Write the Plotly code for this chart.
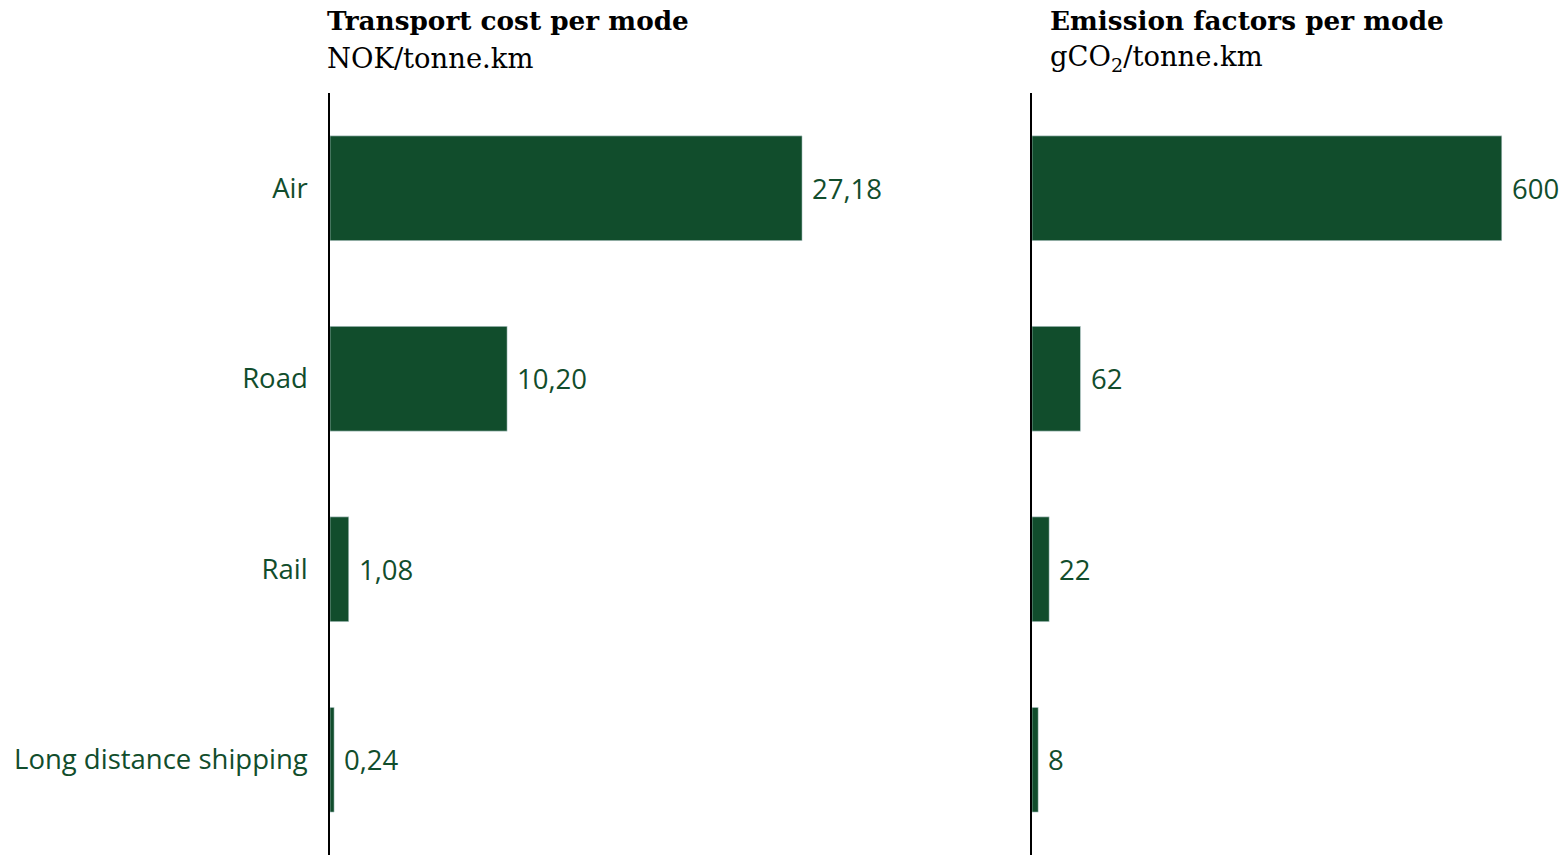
import plotly.graph_objects as go
from plotly.subplots import make_subplots

modes = ["Air", "Road", "Rail", "Long distance shipping"]
cost_nok = [27.18, 10.20, 1.08, 0.24]
emission_g = [600, 62, 22, 8]

title_left = "Transport cost per mode"
unit_left = "NOK/tonne.km"
title_right = "Emission factors per mode"
unit_right = "gCO<sub>2</sub>/tonne.km"

GREEN = "#114D2C"
W, H = 1566, 855
TOP = 93
PH = H - TOP
LABEL_FONT = dict(family="Open Sans, Lato, sans-serif", size=27.5, color=GREEN)

fig = make_subplots(rows=1, cols=2)

fig.add_trace(go.Bar(y=modes, x=cost_nok, orientation="h", marker_color=GREEN, width=0.55,
                     showlegend=False, hoverinfo="skip"), row=1, col=1)
fig.add_trace(go.Bar(y=modes, x=emission_g, orientation="h", marker_color=GREEN, width=0.55,
                     showlegend=False, hoverinfo="skip"), row=1, col=2)

for m, v in zip(modes, cost_nok):
    fig.add_annotation(xref="x", yref="y", x=v, y=m, text=f"{v:.2f}".replace(".", ","),
                       xanchor="left", xshift=8, showarrow=False, font=LABEL_FONT)
for m, v in zip(modes, emission_g):
    fig.add_annotation(xref="x2", yref="y2", x=v, y=m, text=f"{v}",
                       xanchor="left", xshift=8, showarrow=False, font=LABEL_FONT)

yax_common = dict(categoryorder="array", categoryarray=modes, autorange="reversed",
                  showline=True, linecolor="black", linewidth=1.5, showgrid=False,
                  zeroline=False, ticks="", domain=[0, 1], automargin=False)
fig.update_layout(
    yaxis=dict(**yax_common, showticklabels=True, ticklabelstandoff=15, tickfont=LABEL_FONT),
    yaxis2=dict(**yax_common, showticklabels=False),
    xaxis=dict(domain=[330 / W, 900 / W], range=[0, 570 / 17.37], visible=False),
    xaxis2=dict(domain=[1032 / W, 1.0], range=[0, 534 / 0.783], visible=False),
)

def ann(x_px, y_px, text, bold=False, size=26):
    fig.add_annotation(xref="paper", yref="paper", x=x_px / W, y=(H - y_px) / PH,
                       xanchor="left", yanchor="middle", showarrow=False,
                       text=f"<b>{text}</b>" if bold else text,
                       font=dict(family="DejaVu Serif, Liberation Serif, serif",
                                 size=size, color="black"))

ann(325, 21, title_left, True, 26.3)
ann(325, 59, unit_left, False, 27.4)
ann(1048, 21, title_right, True, 26.3)
ann(1048, 59, unit_right, False, 27.4)

fig.update_layout(width=W, height=H, margin=dict(l=0, r=0, t=TOP, b=0),
                  plot_bgcolor="white", paper_bgcolor="white")

fig.write_html("out.html", config={"displayModeBar": False},
               post_script="document.body.style.margin='0px';")
